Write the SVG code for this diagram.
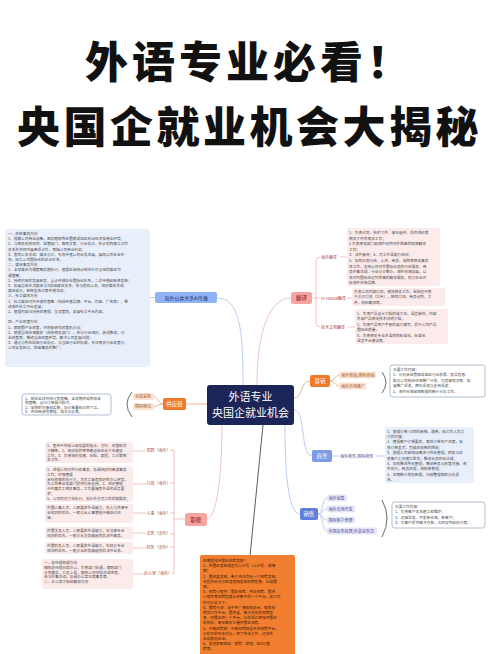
<svg xmlns="http://www.w3.org/2000/svg" width="500" height="654" viewBox="0 0 500 654">
<style>
.title{font-family:"Noto Sans CJK SC","Noto Sans CJK JP",sans-serif;font-weight:900;font-size:43px;fill:#111}
.t{font-family:"Noto Sans CJK SC","Noto Sans CJK JP",sans-serif;font-size:3.7px;fill:#4a4a4a}
.lb{font-family:"Noto Sans CJK SC","Noto Sans CJK JP",sans-serif;font-size:4px}
.nd{font-family:"Noto Sans CJK SC","Noto Sans CJK JP",sans-serif;font-size:5.5px;text-anchor:middle}
.c{fill:none;stroke-width:0.8}
.blue{stroke:#a9c1ea}.pink{stroke:#e9b7b2}.org{stroke:#e6a373}.br{fill:none;stroke:#444;stroke-width:0.8}
.pbox{fill:#fcebeb}.bbox{fill:#e9effa}
.frame{fill:#fff;stroke:#8ea2bd;stroke-width:0.7}
</style>
<rect width="500" height="654" fill="#fff"/>
<g id="title">
<text class="title" x="85" y="78" letter-spacing="4">外语专业必看！</text>
<text class="title" x="17" y="143" letter-spacing="3.5">央国企就业机会大揭秘</text>
</g>
<g id="connectors">
<path class="c blue" d="M243,385 C243,330 240,298 217,298"/>
<path class="c pink" d="M257,385 C257,330 270,298 291,298"/>
<path class="c org" d="M294,398 C303,398 300,381 310,381"/>
<path class="c blue" d="M294,410 C306,410 300,456 312,456"/>
<path class="c blue" d="M285,425 C285,485 290,514 300,514"/>
<path class="c org" d="M207,404 C197,404 195,404 186,404"/>
<path class="c pink" d="M222,425 C222,485 215,519 207,519"/>
<path fill="none" stroke="#333" stroke-width="0.8" d="M263,425 L250,556"/>
<path class="c blue" d="M150,297.5 L155,297.5"/>
<path class="c pink" d="M312,298 L316,298 M320,257 Q316,257 316,261 L316,323 Q316,327 320,327 M316,298 L320,298 M340,257 L347,257 M347,298 L352,298 M348,327 L355,327"/>
<path class="c org" d="M330,381 C335,381 335,375 339,375 M330,381 C335,381 335,386 339,386"/>
<path class="br" d="M382,372 Q390,382.5 382,393"/>
<path class="c blue" d="M332,456 L339,456 M376,456 L385,456"/>
<path class="c blue" d="M318,514 C323,514 322,498 327,498 M318,514 C323,514 322,509 327,509 M318,514 C323,514 322,520 327,520 M318,514 C323,514 322,531 327,531"/>
<path class="br" d="M382,500 Q392,518 382,537"/>
<path class="c org" d="M163,404 C158,404 158,396.5 154,396.5 M163,404 C158,404 158,406.5 154,406.5"/>
<path class="br" d="M132,392 Q122,404 132,417"/>
<path class="c pink" d="M185,519 L174,519 M174,450 L174,574 M170,450 L174,450 M170,483 L174,483 M170,513 L174,513 M170,534 L174,534 M170,547 L174,547 M172,573 L174,573"/>
<path class="c pink" d="M133,451 L146,451 M133,484 L146,484 M133,513 L146,513 M133,533 L146,533 M133,548 L146,548 M133,574 L145,574"/>
</g>
<g id="center">
<rect x="207" y="385" width="87" height="40" rx="3" fill="#1c2558"/>
<text class="nd" x="250.5" y="401" style="font-size:11px;fill:#fff">外语专业</text>
<text class="nd" x="250.5" y="417" style="font-size:11px;fill:#fff">央国企就业机会</text>
</g>
<g id="pr">
<rect x="155" y="292" width="62" height="11" rx="2" fill="#8fb3f5"/>
<text class="nd" x="186" y="299.5" style="font-size:5px;fill:#1a3270">海外公共关系&amp;传播</text>
<rect class="bbox" x="5" y="229" width="145" height="138" rx="3"/>
<text class="t">
<tspan x="8" y="235">一、政府事务方向</tspan>
<tspan x="8" y="240.2">1、理解公司商业战略，密切跟踪所在国家或地区政治经济及商业环境；</tspan>
<tspan x="8" y="245.4">2、与相关政府机构、监管部门、智库学者、行业协会、社会机构建立合作</tspan>
<tspan x="8" y="250.6">关系并共同开展各项合作，保障公司商业利益；</tspan>
<tspan x="8" y="255.8">3、策划公关活动、媒体会议，有效传播公司业务进展，展现公司企业形</tspan>
<tspan x="8" y="261">象，树立公司国际化的企业形象。</tspan>
<tspan x="8" y="266.2">二、媒体事务方向</tspan>
<tspan x="8" y="271.4">1、全球媒体沟通策略实施执行，根据区域特点制定针对当地的媒体沟</tspan>
<tspan x="8" y="276.6">通策略；</tspan>
<tspan x="8" y="281.8">2、持续内容的发展研发，重点传播企业国际化形象，二次传播和新闻发布；</tspan>
<tspan x="8" y="287">3、拓展当地主流媒体与Top级媒体关系，参与危机公关，组织媒体活动、</tspan>
<tspan x="8" y="292.2">媒体采访，新闻发布会等传播活动。</tspan>
<tspan x="8" y="297.4">三、社交媒体方向</tspan>
<tspan x="8" y="302.6">1、社交媒体对外传播的策略（包括传播品牌、平台、内容、广告等），推</tspan>
<tspan x="8" y="307.8">动海外社交平台发展；</tspan>
<tspan x="8" y="313">2、根据内容日历持续管理，互动策划，拓展社交平台内容。</tspan>
<tspan x="8" y="323.4">四、产业政策方向</tspan>
<tspan x="8" y="328.6">1、跟踪国产业政策，并积极研究政策机会点；</tspan>
<tspan x="8" y="333.8">2、根据当地市场需求（政府相关部门），参与行业组织，游说推动，行</tspan>
<tspan x="8" y="339">业政策等，推动当地政策环境，解决公司发展问题；</tspan>
<tspan x="8" y="344.2">3、通过与所在区域行业协会、与当地行业的协调，专注相关行业政策与</tspan>
<tspan x="8" y="349.4">公司业务结合，联营事务的推广。</tspan>
</text>
</g>
<g id="fanyi">
<rect x="291" y="292" width="21" height="12" rx="2.5" fill="#f5a3a3"/>
<text class="nd" x="301.5" y="300" style="fill:#7a1a1a">翻译</text>
<text class="lb" x="321" y="258.5" fill="#b04848">海外翻译</text>
<text class="lb" x="321" y="299.5" fill="#b04848">In-House翻译</text>
<text class="lb" x="321" y="328.5" fill="#b04848">技术文档翻译</text>
<rect class="pbox" x="347" y="228" width="93" height="58" rx="2"/>
<text class="t">
<tspan x="349" y="234">1、负责合同、技术文件、来往函件、项目资料等</tspan>
<tspan x="349" y="239.6">相关文件的笔译工作；</tspan>
<tspan x="349" y="245.2">2.负责相关部门和海外机构对外联络的现场翻译</tspan>
<tspan x="349" y="250.8">工作；</tspan>
<tspan x="349" y="256.4">3、涉外接待；4、员工外语能力培训；</tspan>
<tspan x="349" y="262">5、协助日常行政、人资、商务、采购等相关事务</tspan>
<tspan x="349" y="267.6">性工作，支持公司对外国际业务的行政服务、商</tspan>
<tspan x="349" y="273.2">务外事活动、行业会议筹办、海外市场拓展，以</tspan>
<tspan x="349" y="278.8">及对内国际化运作所需的翻译服务，助力企业开</tspan>
<tspan x="349" y="284.4">拓海外市场品牌。</tspan>
</text>
<rect class="pbox" x="352" y="288" width="93" height="18" rx="2"/>
<text class="t">
<tspan x="354" y="293">负责公司内部口译，笔译相关工作，包括但不限</tspan>
<tspan x="354" y="298.4">于会议口译（交传），陪同口译，商务谈判，文</tspan>
<tspan x="354" y="303.8">件、材料翻译等。</tspan>
</text>
<rect class="pbox" x="355" y="309" width="93" height="35" rx="2"/>
<text class="t">
<tspan x="357" y="315">1、负责产品设计文档的英文化，语言审校，内容</tspan>
<tspan x="357" y="320.4">外部产品相关技术说明文档；</tspan>
<tspan x="357" y="325.8">2、负责产品用户手册的英文编写，提升公司产品</tspan>
<tspan x="357" y="331.2">国际化质量。</tspan>
<tspan x="357" y="336.6">3、负责相关专业术语库的标准化，标准化</tspan>
<tspan x="357" y="342">语言平台建设等。</tspan>
</text>
</g>
<g id="yingxiao">
<rect x="310" y="375" width="20" height="12" rx="2" fill="#f07a2a"/>
<text class="nd" x="320" y="383" style="fill:#fff">营销</text>
<rect x="339" y="371.5" width="37" height="7" rx="1.5" fill="#fde3cf"/>
<text class="lb" x="341" y="376.5" fill="#a0501a">海外营销/国际营销</text>
<rect x="339" y="382.5" width="27" height="7" rx="1.5" fill="#fde3cf"/>
<text class="lb" x="341" y="387.5" fill="#a0501a">海外市场推广</text>
<rect class="frame" x="390" y="365" width="95" height="32" rx="2.5"/>
<text class="t">
<tspan x="393" y="371">主要工作内容：</tspan>
<tspan x="393" y="376.4">1、分析具体国家或地区行业前景、竞品信息、</tspan>
<tspan x="393" y="381.8">配合公司制定市场推广计划、打造营销方案、拓</tspan>
<tspan x="393" y="387.2">展推广渠道、拥有渠道与支持渠道；</tspan>
<tspan x="393" y="392.6">2、海外市场营销数据的统计分析工作。</tspan>
</text>
</g>
<g id="shangwu">
<rect x="312" y="450" width="20" height="12" rx="2" fill="#7d9be6"/>
<text class="nd" x="322" y="458" style="fill:#fff">商务</text>
<text class="lb" x="340" y="457.5" fill="#3a4a90">海外商务/国际商务</text>
<rect class="bbox" x="385" y="427" width="89" height="56" rx="2"/>
<text class="t">
<tspan x="387" y="432.5">1、根据订单/合同的审核，递单，和合作人员交</tspan>
<tspan x="387" y="437.9">付的对接；</tspan>
<tspan x="387" y="443.3">2、管理客户订单要求，跟进订单生产进度，安</tspan>
<tspan x="387" y="448.7">排订单发货，完成应收款的回收；</tspan>
<tspan x="387" y="454.1">3、根据公司营销战略进行目标管理，积极与优</tspan>
<tspan x="387" y="459.5">质客户之间建立联系，推动业务目标达成；</tspan>
<tspan x="387" y="464.9">4、协助推进所有管理，推动商务与政策对接，海</tspan>
<tspan x="387" y="470.3">外执行，税务处理，规格单管理；</tspan>
<tspan x="387" y="475.7">5、定期统计销售数据，归纳整理相应分析报</tspan>
<tspan x="387" y="481.1">告。</tspan>
</text>
</g>
<g id="xiaoshou">
<rect x="300" y="508" width="18" height="12" rx="2" fill="#5f7fdc"/>
<text class="nd" x="309" y="516" style="fill:#fff">销售</text>
<rect x="327" y="494.5" width="20" height="7" rx="1.5" fill="#e6e6f8"/>
<text class="lb" x="328.5" y="499.5" fill="#4a4aa0">海外销售</text>
<rect x="327" y="505.5" width="28" height="7" rx="1.5" fill="#e6e6f8"/>
<text class="lb" x="328.5" y="510.5" fill="#4a4aa0">海外市场开发</text>
<rect x="327" y="516.5" width="28" height="7" rx="1.5" fill="#e6e6f8"/>
<text class="lb" x="328.5" y="521.5" fill="#4a4aa0">国际客户管理</text>
<rect x="327" y="527.5" width="50" height="7" rx="1.5" fill="#e6e6f8"/>
<text class="lb" x="328.5" y="532.5" fill="#4a4aa0">外国业务经理/外贸业务员</text>
<rect class="frame" x="392" y="502" width="93" height="26" rx="2.5"/>
<text class="t">
<tspan x="395" y="508">主要工作内容：</tspan>
<tspan x="395" y="513.4">1、负责客户关系建立和维护；</tspan>
<tspan x="395" y="518.8">2、运营渠道、开发新市场、新客户；</tspan>
<tspan x="395" y="524.2">3、为客户提供解决方案，合同谈判和执行等。</tspan>
</text>
</g>
<g id="gongyinglian">
<rect x="163" y="398" width="23" height="12" rx="2" fill="#f07a2a"/>
<text class="nd" x="174.5" y="406" style="fill:#fff">供应链</text>
<rect x="133" y="393" width="21" height="7" rx="1.5" fill="#fde3cf"/>
<text class="lb" x="135" y="398" fill="#a0501a">全球采购</text>
<rect x="133" y="403" width="21" height="7" rx="1.5" fill="#fde3cf"/>
<text class="lb" x="135" y="408" fill="#a0501a">国际物流</text>
<rect class="frame" x="22" y="394" width="89" height="21" rx="2.5"/>
<text class="t">
<tspan x="25" y="399.5">1、制定全球供应计划策略，全球物资采购及采</tspan>
<tspan x="25" y="404">购策略，设计订单履行模式。</tspan>
<tspan x="25" y="408.5">2、采购的对接和实施，协议签署和合同下达。</tspan>
<tspan x="25" y="413">3、供应商绩效管理，成本分析等。</tspan>
</text>
</g>
<g id="zhineng">
<rect x="185" y="513" width="22" height="13" rx="2.5" fill="#f5a3a3"/>
<text class="nd" x="196" y="521.5" style="fill:#7a1a1a">职能</text>
<text class="lb" x="146.5" y="452" fill="#b04848">党群（海外）</text>
<text class="lb" x="146.5" y="485" fill="#b04848">行政（海外）</text>
<text class="lb" x="146.5" y="514.5" fill="#b04848">人事（海外）</text>
<text class="lb" x="146.5" y="535" fill="#b04848">法务（涉外）</text>
<text class="lb" x="146.5" y="549" fill="#b04848">财务（涉外）</text>
<text class="lb" x="144" y="575" fill="#b04848">办公室（海外）</text>
<rect class="pbox" x="45" y="442" width="88" height="21" rx="2"/>
<text class="t">
<tspan x="47" y="447">1、宣传中央和上级党委的指示、方针、政策和学</tspan>
<tspan x="47" y="451.8">习精神，2、组织党的思想建设和企业文化建设</tspan>
<tspan x="47" y="456.6">工作，3、负责组织党建、纪检、群团、工会等相</tspan>
<tspan x="47" y="461.4">关工作。</tspan>
</text>
<rect class="pbox" x="45" y="466" width="88" height="36" rx="2"/>
<text class="t">
<tspan x="47" y="471">1、处理公司对外行政事务，协调组织内各类事务</tspan>
<tspan x="47" y="475.8">工作，较强管理</tspan>
<tspan x="47" y="480.6">具有很强的执行力，为员工营造良好的办公环境，</tspan>
<tspan x="47" y="485.4">为公司各业务部门提供行政支持，2、组织管理</tspan>
<tspan x="47" y="490.2">中外籍员工相关事务，工作要接受外语的语言要</tspan>
<tspan x="47" y="495">求；</tspan>
<tspan x="47" y="499.8">5、公司内对文化执行，协办外方员工的后勤服务；</tspan>
</text>
<rect class="pbox" x="45" y="504" width="88" height="19" rx="2"/>
<text class="t">
<tspan x="47" y="509">外国人事人员，入职要求外语能力，有人力资源专</tspan>
<tspan x="47" y="513.8">业知识的优先，一般会从人事管理中做综合经</tspan>
<tspan x="47" y="518.6">营。</tspan>
</text>
<rect class="pbox" x="45" y="527" width="88" height="12" rx="2"/>
<text class="t">
<tspan x="47" y="531.8">外国法务人员，入职要求外语能力，有法律专业</tspan>
<tspan x="47" y="536.6">知识的优先，一般会从法务做起然后涉外事务。</tspan>
</text>
<rect class="pbox" x="45" y="542" width="88" height="12" rx="2"/>
<text class="t">
<tspan x="47" y="546.8">外国财务人员，入职要求外语能力，有财会专业</tspan>
<tspan x="47" y="551.6">知识的优先，一般会从财务做起然后涉外业务。</tspan>
</text>
<rect class="pbox" x="42" y="559" width="91" height="30" rx="2"/>
<text class="t">
<tspan x="44" y="564">一、总经理助理方向</tspan>
<tspan x="44" y="568.8">辅助总经理日常办公，负责部门协调，跟踪部门</tspan>
<tspan x="44" y="573.6">计划落实，汇总上报，跟踪公司领导活动进程，</tspan>
<tspan x="44" y="578.4">参与外事活动，协调办公室日常事务等。</tspan>
<tspan x="44" y="583.2">二、办公室文秘和翻译方向</tspan>
</text>
</g>
<g id="recruit">
<rect x="200" y="555" width="95" height="105" rx="2" fill="#f27f30"/>
<text class="t" style="fill:#3a1a05">
<tspan x="203" y="562">在哪里找央国企招聘信息？</tspan>
<tspan x="203" y="567.2">1、央国企官网或官方公众号（公众号、微博</tspan>
<tspan x="203" y="572.4">等）</tspan>
<tspan x="203" y="577.6">2、国资委官网，各大央企均有一个招聘官网，</tspan>
<tspan x="203" y="582.8">有些央企还会在其官网发布招聘信息，比如国</tspan>
<tspan x="203" y="588">网。</tspan>
<tspan x="203" y="593.2">3、招聘小程序：国企招聘、央企招聘、国资</tspan>
<tspan x="203" y="598.4">小程序等招聘信息比较集中的一个平台，找工作</tspan>
<tspan x="203" y="603.6">时可以关注下。</tspan>
<tspan x="203" y="608.8">4、国聘行动：是中央广播电视总台、智联招</tspan>
<tspan x="203" y="614">聘的合作平台，国资委、各大央企的招聘信</tspan>
<tspan x="203" y="619.2">息，央国企的一个平台，比较适合想找央国企</tspan>
<tspan x="203" y="624.4">的同学，每年都有大量央国企招聘。</tspan>
<tspan x="203" y="629.6">5、中智招聘网：中智招聘网是央企招聘平台，</tspan>
<tspan x="203" y="634.8">比较多的央企可以，除了央企之外，还有外</tspan>
<tspan x="203" y="640">企和其他企业。</tspan>
<tspan x="203" y="645.2">6、其他求职网站：猎聘、前程、BOSS直</tspan>
<tspan x="203" y="650.4">聘等。</tspan>
</text>
</g>
</svg>
